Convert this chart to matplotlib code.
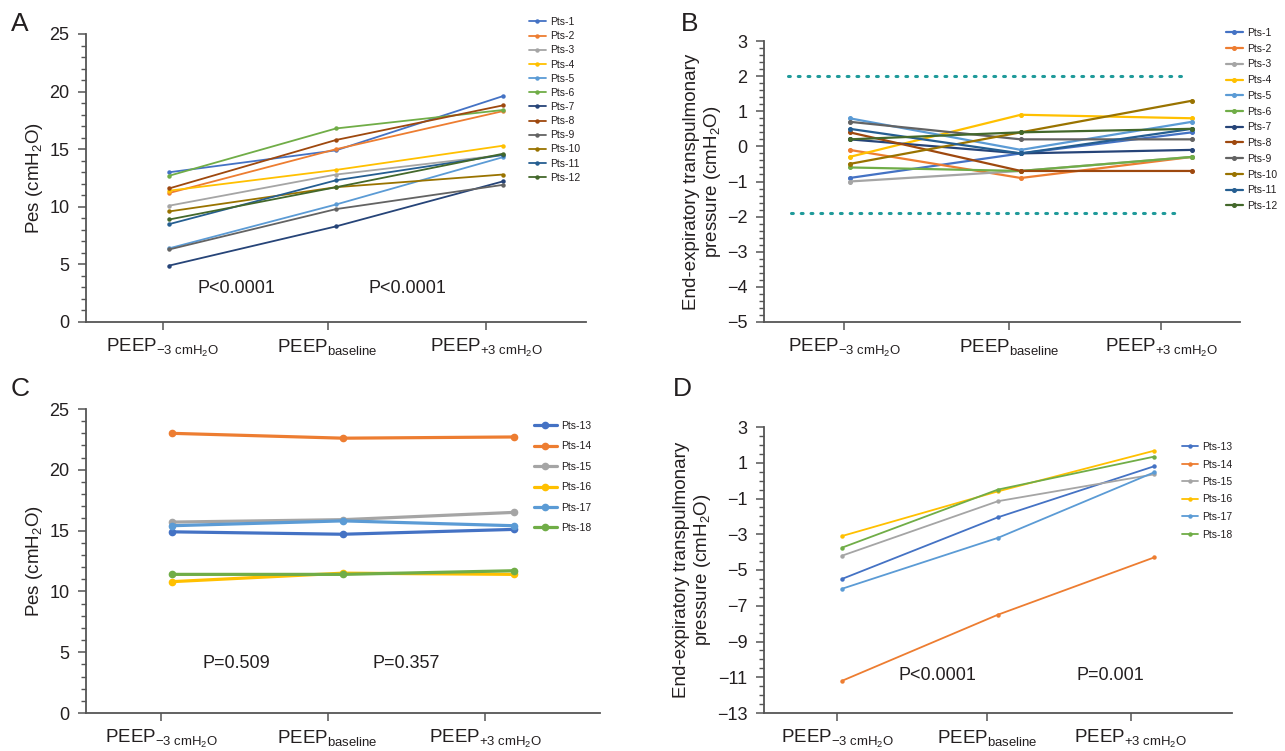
import matplotlib
matplotlib.use("Agg")
import matplotlib.pyplot as plt
from matplotlib.ticker import MultipleLocator

plt.rcParams['font.family'] = ['Liberation Sans', 'DejaVu Sans']
plt.rcParams['mathtext.fontset'] = 'custom'
plt.rcParams['mathtext.rm'] = 'Liberation Sans'
plt.rcParams['mathtext.it'] = 'Liberation Sans:italic'
plt.rcParams['mathtext.bf'] = 'Liberation Sans:bold'

# ---- data ----
levels = [r'PEEP$_{\mathrm{-3\ cmH_2O}}$', r'PEEP$_{\mathrm{baseline}}$', r'PEEP$_{\mathrm{+3\ cmH_2O}}$']

names_ab = ['Pts-%d' % i for i in range(1, 13)]
names_cd = ['Pts-%d' % i for i in range(13, 19)]

colors = ['#4472C4', '#ED7D31', '#A5A5A5', '#FFC000', '#5B9BD5', '#70AD47',
          '#264478', '#9E480E', '#636363', '#997300', '#255E91', '#43682B']

# A: Pes, group 1
pes_a = [
    [13.0, 14.9, 19.6],
    [11.2, 15.0, 18.3],
    [10.1, 12.8, 14.5],
    [11.4, 13.2, 15.3],
    [6.4, 10.2, 14.3],
    [12.7, 16.8, 18.4],
    [4.9, 8.3, 12.2],
    [11.6, 15.8, 18.8],
    [6.3, 9.8, 11.9],
    [9.6, 11.7, 12.8],
    [8.5, 12.3, 14.5],
    [8.9, 11.7, 14.6],
]

# B: end-expiratory transpulmonary pressure, group 1
ptp_b = [
    [-0.9, -0.2, 0.4],
    [-0.1, -0.9, -0.3],
    [-1.0, -0.7, -0.3],
    [-0.3, 0.9, 0.8],
    [0.8, -0.1, 0.7],
    [-0.6, -0.7, -0.3],
    [0.2, -0.2, -0.1],
    [0.4, -0.7, -0.7],
    [0.7, 0.2, 0.2],
    [-0.5, 0.4, 1.3],
    [0.5, -0.2, 0.5],
    [0.2, 0.4, 0.5],
]
ref_levels = [2.0, -1.9]

# C: Pes, group 2
pes_c = [
    [14.9, 14.7, 15.1],
    [23.0, 22.6, 22.7],
    [15.7, 15.9, 16.5],
    [10.8, 11.5, 11.4],
    [15.4, 15.8, 15.4],
    [11.4, 11.4, 11.7],
]

# D: end-expiratory transpulmonary pressure, group 2
ptp_d = [
    [-5.5, -2.05, 0.8],
    [-11.2, -7.5, -4.3],
    [-4.2, -1.15, 0.35],
    [-3.1, -0.6, 1.67],
    [-6.05, -3.2, 0.46],
    [-3.75, -0.5, 1.34],
]

p_a = ['P<0.0001', 'P<0.0001']
p_c = ['P=0.509', 'P=0.357']
p_d = ['P<0.0001', 'P=0.001']

# ---- figure ----
W, H = 1285, 751
fig = plt.figure(figsize=(W / 100, H / 100), dpi=100)


def px_axes(l, r, t, b):
    return fig.add_axes([l / W, 1 - b / H, (r - l) / W, (b - t) / H])


axA = px_axes(86, 586, 34, 322)
axB = px_axes(764, 1240, 41, 322)
axC = px_axes(86, 600, 409, 713)
axD = px_axes(764, 1232, 427, 713)

txt = '#231f20'
spine_c = '#555555'


def style(ax, ylim, major, minor, xlim, ticks):
    ax.set_ylim(*ylim)
    ax.set_xlim(*xlim)
    for s in ['top', 'right']:
        ax.spines[s].set_visible(False)
    for s in ['left', 'bottom']:
        ax.spines[s].set_linewidth(1.3)
        ax.spines[s].set_color(spine_c)
    ax.yaxis.set_major_locator(MultipleLocator(major))
    ax.yaxis.set_minor_locator(MultipleLocator(minor))
    ax.set_xticks(ticks)
    ax.set_xticklabels(levels)
    ax.tick_params(axis='y', which='major', length=6, width=1.1, color=spine_c,
                   labelsize=13, pad=6, labelcolor=txt)
    ax.tick_params(axis='y', which='minor', length=3.5, width=1.0, color=spine_c)
    ax.tick_params(axis='x', which='major', length=5.5, width=1.1, color=spine_c,
                   labelsize=13.5, pad=5, labelcolor=txt)
    ax.yaxis.set_major_formatter(matplotlib.ticker.FuncFormatter(
        lambda v, p: ('%d' % v).replace('-', '\u2212')))


def draw(ax, data, names, lw, ms):
    for i, row in enumerate(data):
        ax.plot(range(3), row, color=colors[i], lw=lw, marker='o', ms=ms,
                label=names[i], solid_capstyle='round')


def legend(ax, x, y, spacing, hl):
    ax.legend(loc='upper left', bbox_to_anchor=(x / W, 1 - y / H),
              bbox_transform=fig.transFigure, frameon=False, fontsize=7.5,
              borderaxespad=0, borderpad=0, labelspacing=spacing,
              handlelength=hl, handletextpad=0.4, labelcolor=txt)


# A
draw(axA, pes_a, names_ab, 1.3, 2.2)
style(axA, (0, 25), 5, 1, (-0.5, 2.5), [-0.04, 0.95, 1.9])
axA.set_ylabel(r'Pes (cmH$_2$O)', fontsize=13.5, color=txt, labelpad=3)
legend(axA, 529, 17, 0.40, 1.6)
for k, p in enumerate(p_a):
    axA.text(0.40 + 1.03 * k, 2.9, p, fontsize=13, color=txt, ha='center', va='center')

# B
draw(axB, ptp_b, names_ab, 1.6, 2.6)
style(axB, (-5, 3), 1, 0.2, (-0.5, 2.28), [-0.03, 0.93, 1.82])
for lvl, x0, x1 in zip(ref_levels, [-0.36, -0.34], [1.95, 1.90]):
    axB.hlines(lvl, x0, x1, colors='#1f9a9a', lw=2.2, linestyles=(0, (0.6, 2.6)),
               capstyle='round')
axB.set_ylabel('End-expiratory transpulmonary\n' + r'pressure (cmH$_2$O)',
               fontsize=13.5, color=txt, labelpad=3, linespacing=1.1)
legend(axB, 1226, 28, 0.55, 1.6)

# C
draw(axC, pes_c, names_cd, 2.3, 4.5)
style(axC, (0, 25), 5, 1, (-0.5, 2.5), [-0.06, 0.91, 1.83])
axC.set_ylabel(r'Pes (cmH$_2$O)', fontsize=13.5, color=txt, labelpad=3)
legend(axC, 534, 421, 1.0, 2.2)
for k, p in enumerate(p_c):
    axC.text(0.38 + 0.99 * k, 4.1, p, fontsize=13, color=txt, ha='center', va='center')

# D
draw(axD, ptp_d, names_cd, 1.3, 2.2)
style(axD, (-13, 3), 2, 0.5, (-0.5, 2.5), [-0.03, 0.93, 1.85])
axD.yaxis.set_major_locator(matplotlib.ticker.FixedLocator(range(3, -14, -2)))
axD.set_ylabel('End-expiratory transpulmonary\n' + r'pressure (cmH$_2$O)',
               fontsize=13.5, color=txt, labelpad=3, linespacing=1.1)
legend(axD, 1182, 442, 0.72, 1.5)
for k, p in enumerate(p_d):
    axD.text(0.61 + 1.11 * k, -10.9, p, fontsize=13, color=txt, ha='center', va='center')

# panel letters
for letter, x, y in [('A', 20, 24), ('B', 690, 24), ('C', 20, 389), ('D', 682, 389)]:
    fig.text(x / W, 1 - y / H, letter, fontsize=19, color=txt, ha='center', va='center')

fig.savefig('out.png', dpi=100)
